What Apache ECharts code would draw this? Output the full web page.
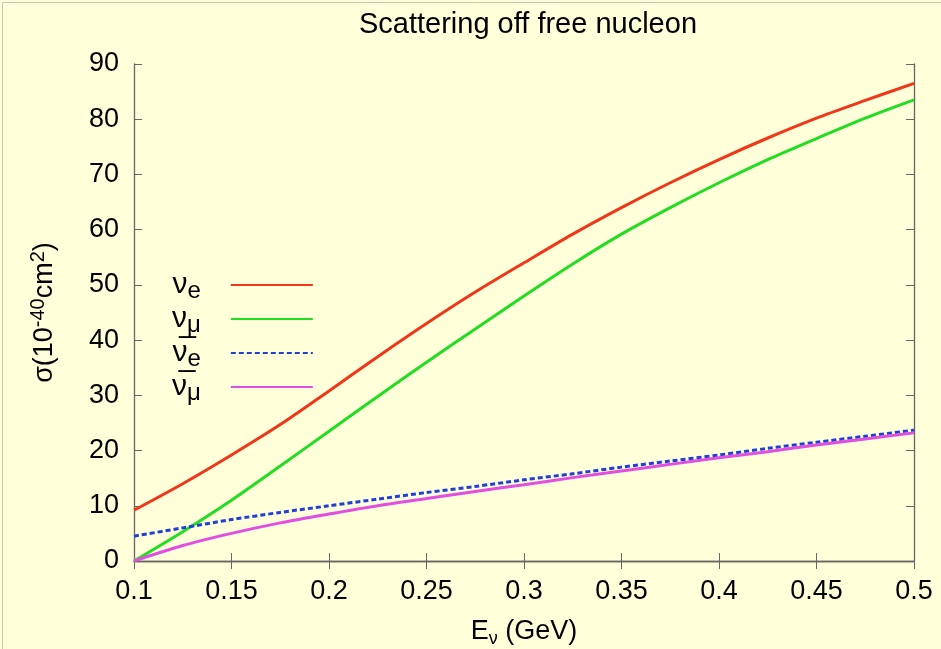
<!DOCTYPE html>
<html><head><meta charset="utf-8">
<script src="https://cdn.jsdelivr.net/npm/echarts@6/dist/echarts.min.js"></script>
<style>html,body{margin:0;padding:0;background:#ffffda}#c{width:941px;height:649px}</style>
</head><body><div id="c"></div>
<script>
const energies = [0.1,0.125,0.15,0.175,0.2,0.225,0.25,0.275,0.3,0.325,0.35,0.375,0.4,0.425,0.45,0.475,0.5];
const nuE      = [9.2,14,19.2,24.7,30.8,37,43,48.7,54,59.2,64,68.5,72.7,76.6,80.2,83.4,86.5];
const nuMu     = [0,5.3,11,17.2,23.5,29.8,36,42,48,53.8,59.2,64,68.5,72.7,76.5,80.2,83.5];
const antiNuE  = [4.5,6,7.5,8.8,10,11.2,12.4,13.5,14.7,15.8,17,18.1,19.2,20.4,21.5,22.6,23.7];
const antiNuMu = [0,2.8,5,6.9,8.5,10,11.3,12.6,13.8,15.1,16.3,17.5,18.7,19.8,21,22.1,23.2];
const xTicks = [0.1,0.15,0.2,0.25,0.3,0.35,0.4,0.45,0.5];
const yTicks = [0,10,20,30,40,50,60,70,80,90];

const pair = (ys) => energies.map((x,i)=>[x,ys[i]]);
const font = 'Liberation Sans, Arial, sans-serif';
const legendText = {
  nuE: '{nu|ν}{sub|e}',
  nuMu: '{nu|ν}{sub|μ}',
  antiNuE: '{nu|ν\u0305}{sub|e}',
  antiNuMu: '{nu|ν\u0305}{sub|μ}'
};
const axisLine = {lineStyle:{color:'#666',width:1.3}};
const tickIn = {inside:true,length:8,lineStyle:{color:'#666'}};
function mk(name, ys, color, type){
  return {name, type:'line', data:pair(ys), smooth:0.3, showSymbol:false, symbol:'none',
    lineStyle:{color, width:3, type}, itemStyle:{color}, z: 3};
}
const chart = echarts.init(document.getElementById('c'));
chart.setOption({
  backgroundColor:'#ffffda',
  animation:false,
  title:{text:'Scattering off free nucleon', left:523, top:5, textAlign:'center',
    textStyle:{fontFamily:font,fontSize:29,fontWeight:'normal',color:'#000'}},
  grid:{left:134,right:27,top:64,bottom:88,outerBoundsMode:'none',containLabel:false},
  legend:{orient:'vertical', left:167, top:265, align:'right', itemWidth:82, itemHeight:4, itemGap:1,
    data:['nuE','nuMu','antiNuE','antiNuMu'],
    itemStyle:{opacity:0},
    formatter:(n)=>legendText[n],
    textStyle:{fontFamily:font, width:56, padding:[0,25,0,0],
      rich:{nu:{fontSize:30,fontFamily:font,color:'#000'},
            sub:{fontSize:24,fontFamily:font,color:'#000',verticalAlign:'bottom',padding:[12,0,0,0]}}}},
  xAxis:[{type:'value', min:0.1, max:0.5, interval:0.05,
    axisLine:axisLine, axisTick:tickIn, splitLine:{show:false},
    axisLabel:{fontFamily:font,fontSize:27,color:'#000',margin:17,formatter:(v)=>String(+v.toFixed(2))},
    name:'{a|E}{s|ν}{a| (GeV)}', nameLocation:'middle', nameGap:55,
    nameTextStyle:{rich:{a:{fontFamily:font,fontSize:27,color:'#000'},
      s:{fontFamily:font,fontSize:18,color:'#000',verticalAlign:'bottom',padding:[14,0,0,0]}}}},
    {type:'value', position:'top', min:0.1, max:0.5, interval:0.05,
    axisLine:axisLine, axisTick:tickIn, axisLabel:{show:false}, splitLine:{show:false}}],
  yAxis:[{type:'value', min:0, max:90, interval:10,
    axisLine:{show:true,...axisLine}, axisTick:{show:true,...tickIn}, splitLine:{show:false},
    axisLabel:{fontFamily:font,fontSize:27,color:'#000',margin:15},
    name:'{a|σ(10}{s|-40}{a|cm}{s|2}{a|)}', nameLocation:'middle', nameGap:72, nameRotate:90,
    nameTextStyle:{rich:{a:{fontFamily:font,fontSize:27,color:'#000'},
      s:{fontFamily:font,fontSize:20,color:'#000',verticalAlign:'top',padding:[0,0,14,0]}}}},
    {type:'value', position:'right', min:0, max:90, interval:10,
    axisLine:{show:true,...axisLine}, axisTick:{show:true,...tickIn}, axisLabel:{show:false}, splitLine:{show:false}}],
  series:[
    mk('nuE', nuE, '#f0371a', 'solid'),
    mk('nuMu', nuMu, '#22dd22', 'solid'),
    mk('antiNuE', antiNuE, '#1f3fd8', [5,3]),
    mk('antiNuMu', antiNuMu, '#e24ee0', 'solid')
  ],
  graphic:[{type:'rect', left:0, top:0, shape:{width:940, height:648}, style:{fill:'none', stroke:'#c8c8b0', lineWidth:1}, silent:true}]
});
</script></body></html>
